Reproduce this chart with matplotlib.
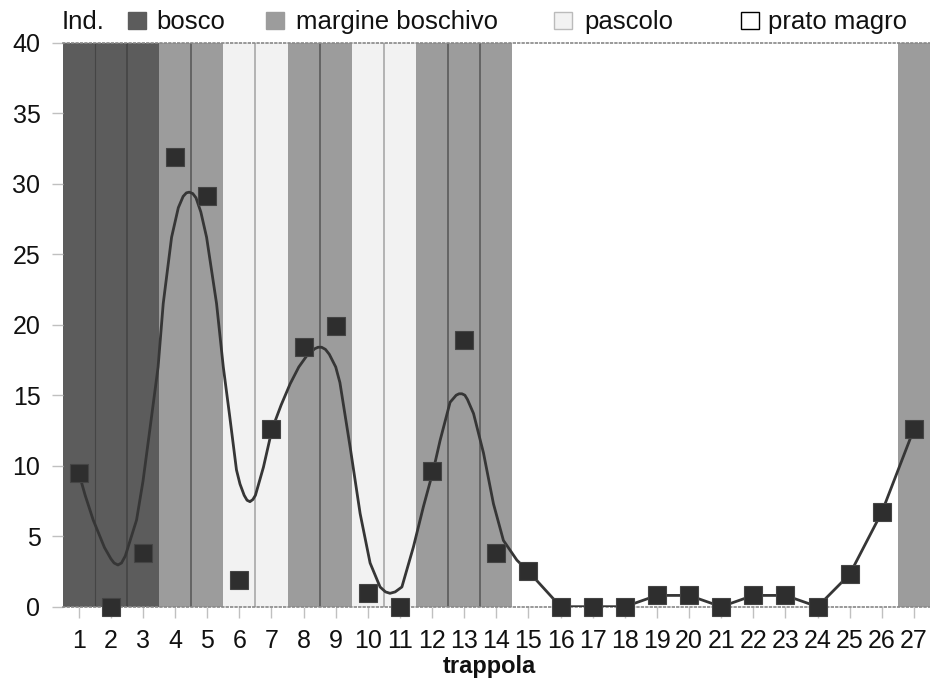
import matplotlib
matplotlib.use('Agg')
import matplotlib.pyplot as plt
from matplotlib.patches import Rectangle

plt.rcParams['font.family'] = ['Liberation Sans', 'DejaVu Sans']

# catture per trappola
trappole = list(range(1, 28))
individui = [9.5, 0, 3.8, 31.9, 29.1, 1.9, 12.6, 18.4, 19.9, 1.0, 0, 9.6, 18.9, 3.8,
             2.5, 0, 0, 0, 0.8, 0.8, 0, 0.8, 0.8, 0, 2.3, 6.7, 12.6]

# habitat di ogni trappola
habitat = ['bosco'] * 3 + ['margine'] * 2 + ['pascolo'] * 2 + ['margine'] * 2 + \
          ['pascolo'] * 2 + ['margine'] * 3 + ['prato'] * 12 + ['margine']

# curva smussata
curva_x = [1.0, 1.2, 1.45, 1.8, 2.0, 2.1, 2.22, 2.33, 2.45, 2.8, 3.0, 3.21, 3.47, 3.63,
           3.89, 4.1, 4.25, 4.35, 4.44, 4.55, 4.65, 4.8, 4.98, 5.29, 5.5, 5.7, 5.91,
           6.02, 6.15, 6.24, 6.33, 6.42, 6.5, 6.75, 7.02, 7.3, 7.58, 7.85, 8.1, 8.35,
           8.45, 8.56, 8.68, 8.8, 9.0, 9.13, 9.45, 9.76, 10.07, 10.38, 10.55, 10.69,
           10.85, 11.06, 11.42, 11.73, 12.04, 12.25, 12.56, 12.75, 12.84, 12.93, 13.02,
           13.1, 13.29, 13.6, 13.91, 14.22, 14.64, 15, 16, 17, 18, 19, 20, 21, 22, 23,
           24, 25, 26, 27]
curva_y = [9.5, 7.9, 6.15, 4.2, 3.4, 3.1, 2.96, 3.1, 3.6, 6.15, 8.9, 12.5, 17.0, 21.5,
           26.2, 28.3, 29.1, 29.35, 29.4, 29.3, 29.0, 28.0, 26.2, 21.5, 17.0, 13.5, 9.7,
           8.7, 7.9, 7.55, 7.45, 7.6, 7.9, 9.9, 12.6, 14.3, 15.8, 17.0, 17.8, 18.3,
           18.4, 18.4, 18.25, 17.9, 17.0, 15.9, 11.3, 6.6, 3.1, 1.4, 1.05, 0.95,
           1.05, 1.4, 4.25, 7.1, 9.7, 11.8, 14.5, 15.0, 15.1, 15.1, 15.0,
           14.7, 13.7, 10.9, 7.3, 4.7, 3.3, 2.5, 0, 0, 0, 0.8, 0.8, 0, 0.8, 0.8,
           0, 2.3, 6.7, 12.6]

colori = {'bosco': '#5c5c5c', 'margine': '#9c9c9c', 'pascolo': '#f2f2f2', 'prato': 'white'}
linee = {'bosco': '#454545', 'margine': '#5a5a5a', 'pascolo': '#a8a8a8'}

fig = plt.figure(figsize=(9.3, 6.91), dpi=100)
ax = fig.add_axes([0.0674, 0.122, 0.9326, 0.8162])

for t, h in zip(trappole, habitat):
    ax.axvspan(t - 0.5, t + 0.5, color=colori[h], lw=0, zorder=0)
for i in range(len(trappole) - 1):
    h = habitat[i]
    if h == habitat[i + 1] and h != 'prato':
        lw = 0.8 if (h == 'bosco' and i == 0) else 1.2
        ax.axvline(trappole[i] + 0.5, color=linee[h], lw=lw, zorder=1)

ax.plot(curva_x, curva_y, color='#363636', lw=2.0, zorder=3,
        solid_joinstyle='round', solid_capstyle='round')
ax.plot(trappole, individui, 's', color='#2e2e2e', markersize=13, mec='#444444',
        mew=0.8, linestyle='none', zorder=4, clip_on=False)

ax.set_xlim(0.5, 27.5)
ax.set_ylim(0, 40)
ax.set_xticks(trappole)
ax.set_yticks(range(0, 41, 5))
ax.tick_params(axis='both', labelsize=18, color='#c0c0c0', length=8, width=1,
               pad=8, labelcolor='#111111')
for s in ['left', 'right']:
    ax.spines[s].set_visible(False)
for s in ['top', 'bottom']:
    ax.spines[s].set_linestyle(':')
    ax.spines[s].set_color('#888888')
    ax.spines[s].set_linewidth(1.2)

fig.text(489 / 930, 1 - 667 / 691, 'trappola', fontsize=17, fontweight='bold',
         ha='center', va='center', color='#111111')

# legenda in alto
W, H = 930.0, 691.0
yb = 1 - 29 / H
fig.text(62 / W, yb, 'Ind.', fontsize=18.5, va='baseline', color='#111111')
voci = [(128, 'bosco', 156, 'bosco'), (266, 'margine', 296, 'margine boschivo'),
        (554, 'pascolo', 584, 'pascolo'), (741, 'prato', 768, 'prato magro')]
for xq, h, xt, nome in voci:
    ec = 'black' if h == 'prato' else ('#bbbbbb' if h == 'pascolo' else colori[h])
    fig.add_artist(Rectangle((xq / W, 1 - 29 / H), 18 / W, 17 / H,
                             transform=fig.transFigure, facecolor=colori[h],
                             edgecolor=ec, lw=1))
    fig.text(xt / W, yb, nome, fontsize=18.5, va='baseline', color='#111111')

plt.savefig('out.png', dpi=100)
plt.close()
